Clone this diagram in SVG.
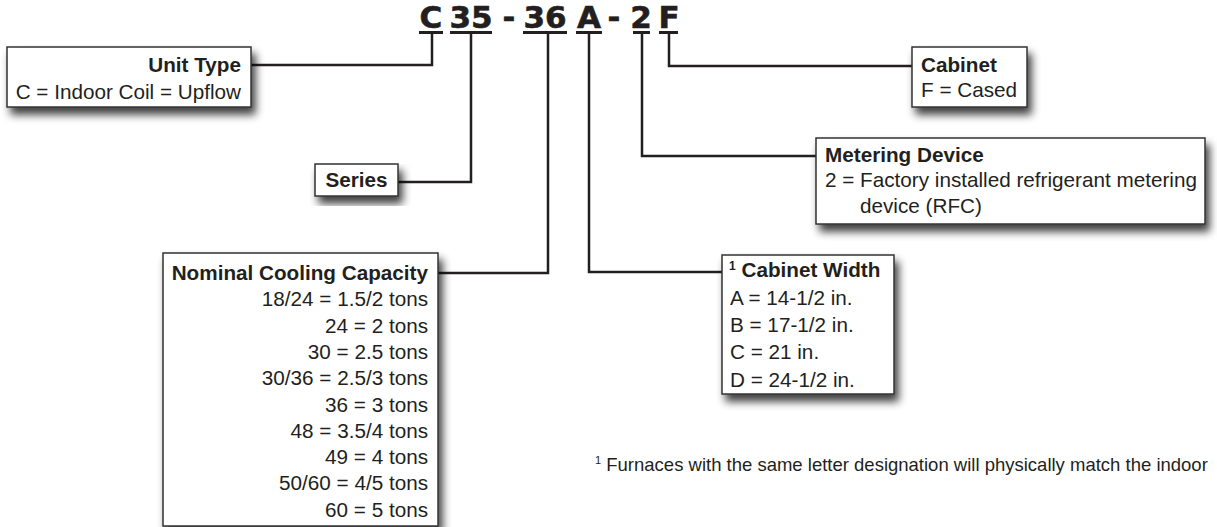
<svg xmlns="http://www.w3.org/2000/svg" width="1217" height="527" viewBox="0 0 1217 527">
<defs>
<filter id="sh" x="-10%" y="-20%" width="130%" height="150%">
<feGaussianBlur in="SourceAlpha" stdDeviation="4"/>
<feOffset dx="4" dy="7" result="b"/>
<feComponentTransfer><feFuncA type="linear" slope="0.75"/></feComponentTransfer>
<feMerge><feMergeNode/><feMergeNode in="SourceGraphic"/></feMerge>
</filter>
<style>
.box{fill:#fff;stroke:#333;stroke-width:1.5;filter:url(#sh)}
.t{font-family:"Liberation Sans",Arial,sans-serif;font-size:20.7px;fill:#231f20}
.b{font-weight:bold}
.r{text-anchor:end}
.code{font-family:"DejaVu Sans",sans-serif;font-weight:bold;font-size:31px;fill:#231f20;stroke:#231f20;stroke-width:0.6;text-anchor:middle}
.ul{stroke:#231f20;stroke-width:3}
.con{fill:none;stroke:#231f20;stroke-width:2.5}
.sup{font-size:12px}
.fn{font-family:"Liberation Sans",Arial,sans-serif;font-size:18.5px;fill:#231f20}
</style>
</defs>
<rect width="1217" height="527" fill="#fff"/>
<g id="code">
<text class="code" x="431" y="28">C</text>
<text class="code" x="471" y="28">35</text>
<text class="code" x="509" y="28">-</text>
<text class="code" x="545" y="28">36</text>
<text class="code" x="589" y="28">A</text>
<text class="code" x="614" y="28">-</text>
<text class="code" x="641" y="28">2</text>
<text class="code" x="669" y="28">F</text>
<line class="ul" x1="419" y1="32.5" x2="443" y2="32.5"/>
<line class="ul" x1="450" y1="32.5" x2="492" y2="32.5"/>
<line class="ul" x1="523" y1="32.5" x2="567" y2="32.5"/>
<line class="ul" x1="576" y1="32.5" x2="602" y2="32.5"/>
<line class="ul" x1="633" y1="32.5" x2="650" y2="32.5"/>
<line class="ul" x1="659" y1="32.5" x2="678" y2="32.5"/>
</g>
<g id="connectors">
<polyline class="con" points="251,65 432,65 432,32"/>
<polyline class="con" points="398,182 471,182 471,32"/>
<polyline class="con" points="438,273 548,273 548,32"/>
<polyline class="con" points="722,272 589,272 589,32"/>
<polyline class="con" points="816,156 642,156 642,32"/>
<polyline class="con" points="912,66 669,66 669,32"/>
</g>
<g id="unit-type">
<rect class="box" x="7" y="47" width="244" height="60"/>
<text class="t b r" x="241" y="72">Unit Type</text>
<text class="t r" x="241" y="99">C = Indoor Coil = Upflow</text>
</g>
<g id="series">
<rect class="box" x="315" y="164" width="83" height="32"/>
<text class="t b" x="356.5" y="187" text-anchor="middle">Series</text>
</g>
<g id="nominal">
<rect class="box" x="163" y="253" width="275" height="273"/>
<text class="t b r" x="428" y="280">Nominal Cooling Capacity</text>
<text class="t r" x="428" y="306.3">18/24 = 1.5/2 tons</text>
<text class="t r" x="428" y="332.6">24 = 2 tons</text>
<text class="t r" x="428" y="358.9">30 = 2.5 tons</text>
<text class="t r" x="428" y="385.2">30/36 = 2.5/3 tons</text>
<text class="t r" x="428" y="411.5">36 = 3 tons</text>
<text class="t r" x="428" y="437.8">48 = 3.5/4 tons</text>
<text class="t r" x="428" y="464.1">49 = 4 tons</text>
<text class="t r" x="428" y="490.4">50/60 = 4/5 tons</text>
<text class="t r" x="428" y="516.7">60 = 5 tons</text>
</g>
<g id="cabinet-width">
<rect class="box" x="722" y="255" width="172" height="139"/>
<text class="t b" x="729" y="277"><tspan class="sup" dy="-7">1</tspan><tspan dy="7"> Cabinet Width</tspan></text>
<text class="t" x="730" y="304.5">A = 14-1/2 in.</text>
<text class="t" x="730" y="332">B = 17-1/2 in.</text>
<text class="t" x="730" y="359">C = 21 in.</text>
<text class="t" x="730" y="386.5">D = 24-1/2 in.</text>
</g>
<g id="cabinet">
<rect class="box" x="912" y="47" width="115" height="60"/>
<text class="t b" x="921" y="72">Cabinet</text>
<text class="t" x="921" y="97">F = Cased</text>
</g>
<g id="metering">
<rect class="box" x="816" y="138" width="389" height="86"/>
<text class="t b" x="825" y="162">Metering Device</text>
<text class="t" x="825" y="187">2 = Factory installed refrigerant metering</text>
<text class="t" x="860" y="213">device (RFC)</text>
</g>
<g id="footnote">
<text class="fn" x="595" y="471"><tspan font-size="11" dy="-7">1</tspan><tspan dy="7"> Furnaces with the same letter designation will physically match the indoor</tspan></text>
</g>
</svg>
